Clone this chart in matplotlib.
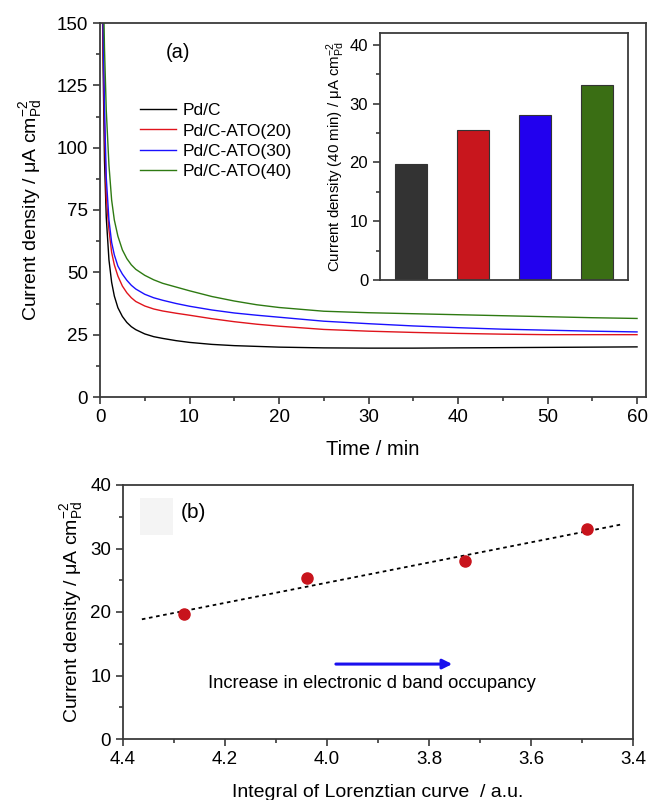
import matplotlib
matplotlib.use("Agg")
import matplotlib.pyplot as plt
from matplotlib.ticker import MultipleLocator
from matplotlib.patches import Rectangle

plt.rcParams['font.family'] = ['Liberation Sans', 'DejaVu Sans']
plt.rcParams['mathtext.fontset'] = 'custom'
plt.rcParams['mathtext.rm'] = 'Liberation Sans'
plt.rcParams['mathtext.it'] = 'Liberation Sans:italic'

# ---- data: chronoamperometry (panel a) ----
labels = ["Pd/C", "Pd/C-ATO(20)", "Pd/C-ATO(30)", "Pd/C-ATO(40)"]
colors = ["#000000", "#e0141c", "#1a10ff", "#2e7a12"]
time_min = [0.15, 0.25, 0.35, 0.5, 0.7, 1, 1.3, 1.6, 2, 2.5, 3, 3.5, 4, 5, 6, 7, 8.5,
            10, 12.5, 15, 17.5, 20, 25, 30, 35, 40, 45, 50, 55, 60]
j_pdc = [250, 163, 132, 95, 72, 55, 46, 40.5, 35.8, 32.3, 29.9, 28.2, 27.0, 25.3, 24.2,
         23.5, 22.6, 21.9, 21.1, 20.6, 20.3, 20.0, 19.7, 19.6, 19.6, 19.7, 19.8, 19.9, 20.0, 20.1]
j_ato20 = [250, 175, 140, 110, 80, 67, 58, 53, 48.5, 44.5, 41.8, 39.8, 38.3, 36.5, 35.3,
           34.5, 33.6, 32.8, 31.4, 30.2, 29.2, 28.4, 27.1, 26.4, 25.9, 25.5, 25.2, 25.0, 25.0, 25.0]
j_ato30 = [250, 185, 148, 117, 88, 71, 62, 57, 52.5, 49.3, 46.8, 44.8, 43.3, 41.2, 39.8,
           38.8, 37.5, 36.4, 34.9, 33.7, 32.8, 32.0, 30.4, 29.4, 28.5, 27.8, 27.2, 26.8, 26.4, 26.1]
j_ato40 = [250, 200, 170, 140, 115, 93, 79, 71, 64.5, 59, 55.5, 53, 51.2, 48.8, 47,
           45.6, 44.1, 42.6, 40.3, 38.5, 37, 35.9, 34.4, 33.8, 33.4, 33.0, 32.6, 32.2, 31.8, 31.5]
series = [j_pdc, j_ato20, j_ato30, j_ato40]

# ---- inset bars: current density at 40 min ----
bar_values = [19.8, 25.5, 28.0, 33.2]
bar_colors = ["#333333", "#c8161d", "#2200ee", "#3a6e14"]

# ---- panel b ----
lorentz_int = [4.28, 4.04, 3.73, 3.49]
j_40min = [19.7, 25.4, 28.0, 33.1]
fit_x = [4.363, 3.422]
fit_y = [18.85, 33.8]

spine_c = "#3a3a3a"

fig = plt.figure(figsize=(6.49, 8.0), dpi=100)

def style(ax, fs=13.5):
    for s in ax.spines.values():
        s.set_color(spine_c)
        s.set_linewidth(1.3)
    ax.tick_params(which='both', direction='out', color=spine_c, width=1.2,
                   labelsize=fs, top=False, right=False)
    ax.tick_params(which='major', length=5)
    ax.tick_params(which='minor', length=3)

ylab = r"Current density / $\mathrm{\mu}$A cm$^{-2}_{\mathrm{Pd}}$"

# Panel a
ax1 = fig.add_axes([100/649, 1-397/800, 546/649, 374/800])
for y, c, l in zip(series, colors, labels):
    ax1.plot(time_min, y, color=c, lw=1.0, label=l)
ax1.set_xlim(0, 61)
ax1.set_ylim(0, 150)
ax1.xaxis.set_major_locator(MultipleLocator(10))
ax1.xaxis.set_minor_locator(MultipleLocator(5))
ax1.yaxis.set_major_locator(MultipleLocator(25))
ax1.yaxis.set_minor_locator(MultipleLocator(12.5))
style(ax1)
ax1.set_xlabel("Time / min", fontsize=14.5, labelpad=10)
ax1.set_ylabel(ylab, fontsize=14, labelpad=9)
ax1.text(8.7, 138, "(a)", fontsize=14.5, ha='center', va='center')
ax1.legend(loc='upper left', bbox_to_anchor=(0.073, 0.786), frameon=False, fontsize=12.5,
           handlelength=2.1, handletextpad=0.35, labelspacing=0.3, borderaxespad=0,
           borderpad=0)

# Inset
axi = fig.add_axes([380/649, 1-280/800, 248/649, 247/800])
xpos = list(range(len(bar_values)))
axi.bar(xpos, bar_values, width=0.52, color=bar_colors, edgecolor="#333333", linewidth=0.8)
axi.set_xlim(-0.5, 3.5)
axi.set_ylim(0, 42)
axi.set_xticks([])
axi.yaxis.set_major_locator(MultipleLocator(10))
axi.yaxis.set_minor_locator(MultipleLocator(5))
style(axi, fs=12)
axi.set_ylabel(r"Current density (40 min) / $\mathrm{\mu}$A cm$^{-2}_{\mathrm{Pd}}$", fontsize=10.8, labelpad=2)

# Panel b
ax2 = fig.add_axes([123/649, 1-739/800, 510/649, 254/800])
ax2.add_patch(Rectangle((4.367, 32.1), -0.065, 5.9, color="#f4f4f4", lw=0, zorder=0))
ax2.plot(fit_x, fit_y, color='black', lw=1.3, ls=(0, (2, 2)))
ax2.plot(lorentz_int, j_40min, 'o', color="#c8141c", ms=8, zorder=3)
ax2.set_xlim(4.4, 3.4)
ax2.set_ylim(0, 40)
ax2.xaxis.set_major_locator(MultipleLocator(0.2))
ax2.xaxis.set_minor_locator(MultipleLocator(0.1))
ax2.yaxis.set_major_locator(MultipleLocator(10))
ax2.yaxis.set_minor_locator(MultipleLocator(5))
style(ax2)
ax2.set_xlabel("Integral of Lorenztian curve  / a.u.", fontsize=14, labelpad=12)
ax2.set_ylabel(ylab, fontsize=14, labelpad=4)
ax2.text(4.261, 35.6, "(b)", fontsize=15, ha='center', va='center')
ax2.annotate("", xy=(3.749, 11.8), xytext=(3.988, 11.8),
             arrowprops=dict(arrowstyle='-|>', color='#1a10ee', lw=2.2, mutation_scale=14))
ax2.text(3.912, 8.8, "Increase in electronic d band occupancy", fontsize=13.2, ha='center', va='center')

fig.savefig("out.png", dpi=100)
